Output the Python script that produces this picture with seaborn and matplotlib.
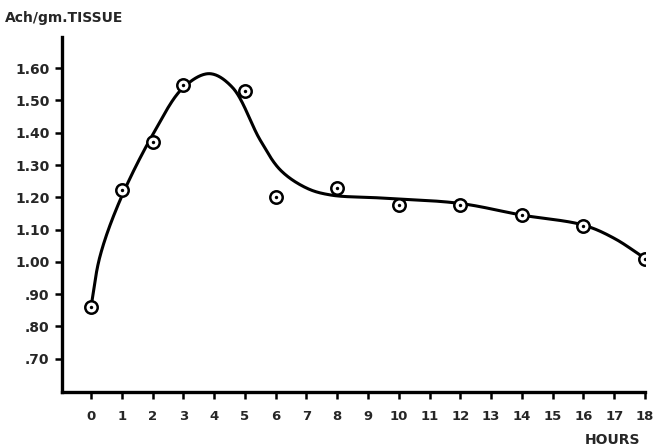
import numpy as np
import pandas as pd
import matplotlib
matplotlib.use("Agg")
import matplotlib.pyplot as plt
import seaborn as sns

# Measured points
hours = [0, 1, 2, 3, 5, 6, 8, 10, 12, 14, 16, 18]
ach = [0.86, 1.222, 1.371, 1.547, 1.529, 1.20, 1.228, 1.176, 1.176, 1.145, 1.111, 1.008]

# Hand-drawn smooth curve
curve_x = [0, 0.29, 0.94, 2.03, 3.0, 3.85, 4.6, 5.5, 6.16, 7.02, 7.8, 9.4,
           12.0, 14.0, 16.0, 17.0, 18.0]
curve_y = [0.86, 1.016, 1.19, 1.398, 1.54, 1.583, 1.54, 1.377, 1.284, 1.228, 1.207, 1.198,
           1.181, 1.145, 1.114, 1.073, 1.011]

x_ticks = list(range(0, 19))
y_ticks = [0.70, 0.80, 0.90, 1.00, 1.10, 1.20, 1.30, 1.40, 1.50, 1.60]
y_labels = [".70", ".80", ".90", "1.00", "1.10", "1.20", "1.30", "1.40", "1.50", "1.60"]


def centripetal_cr(xs, ys, n=30, alpha=0.5, sx=1.0, sy=10.0):
    """Centripetal Catmull-Rom through the read points (rendering only)."""
    P = np.column_stack([np.asarray(xs, float) * sx, np.asarray(ys, float) * sy])
    P = np.vstack([2 * P[0] - P[1], P, 2 * P[-1] - P[-2]])
    out = []
    for i in range(1, len(P) - 2):
        p0, p1, p2, p3 = P[i - 1], P[i], P[i + 1], P[i + 2]
        t0 = 0.0
        t1 = t0 + np.linalg.norm(p1 - p0) ** alpha
        t2 = t1 + np.linalg.norm(p2 - p1) ** alpha
        t3 = t2 + np.linalg.norm(p3 - p2) ** alpha
        t = np.linspace(t1, t2, n, endpoint=False)[:, None]
        A1 = (t1 - t) / (t1 - t0) * p0 + (t - t0) / (t1 - t0) * p1
        A2 = (t2 - t) / (t2 - t1) * p1 + (t - t1) / (t2 - t1) * p2
        A3 = (t3 - t) / (t3 - t2) * p2 + (t - t2) / (t3 - t2) * p3
        B1 = (t2 - t) / (t2 - t0) * A1 + (t - t0) / (t2 - t0) * A2
        B2 = (t3 - t) / (t3 - t1) * A2 + (t - t1) / (t3 - t1) * A3
        C = (t2 - t) / (t2 - t1) * B1 + (t - t1) / (t2 - t1) * B2
        out.append(C)
    out.append(P[-2][None, :])
    out = np.vstack(out)
    return out[:, 0] / sx, out[:, 1] / sy


sns.set_style("ticks")
plt.rcParams['font.family'] = ['DejaVu Sans']

fig = plt.figure(figsize=(6.55, 4.48), dpi=100)
ax = fig.add_axes([0.0947, 0.1257, 0.8900, 0.7913])

cx, cy = centripetal_cr(curve_x, curve_y)
curve_df = pd.DataFrame({"x": cx, "y": cy})
sns.lineplot(data=curve_df, x="x", y="y", ax=ax, color="black", lw=2.2, sort=False,
             estimator=None, zorder=2)

pts = pd.DataFrame({"hours": hours, "ach": ach})
sns.scatterplot(data=pts, x="hours", y="ach", ax=ax, s=80, marker="o",
                facecolor="white", edgecolor="black", linewidth=1.8, zorder=3)
sns.scatterplot(data=pts, x="hours", y="ach", ax=ax, s=6, marker="o",
                color="black", linewidth=0, zorder=4)

ax.set_xlim(-0.94, 18)
ax.set_ylim(0.598, 1.696)
ax.set_xticks(x_ticks)
ax.set_xticklabels([str(v) for v in x_ticks], fontsize=9.5, fontweight="bold")
ax.set_yticks(y_ticks)
ax.set_yticklabels(y_labels, fontsize=10, fontweight="bold")
ax.tick_params(axis="both", direction="out", length=5, width=1.8, color="black", pad=4)
ax.tick_params(axis="x", pad=8)
for s in ["top", "right"]:
    ax.spines[s].set_visible(False)
for s in ["left", "bottom"]:
    ax.spines[s].set_linewidth(2.4)
    ax.spines[s].set_color("black")
ax.set_xlabel("")
ax.set_ylabel("")

fig.text(5 / 655, 1 - 18 / 448, "Ach/gm.TISSUE", fontsize=10, fontweight="bold",
         ha="left", va="center")
fig.text(640 / 655, 1 - 440 / 448, "HOURS", fontsize=10, fontweight="bold",
         ha="right", va="center")

fig.savefig("out.png", dpi=100)
